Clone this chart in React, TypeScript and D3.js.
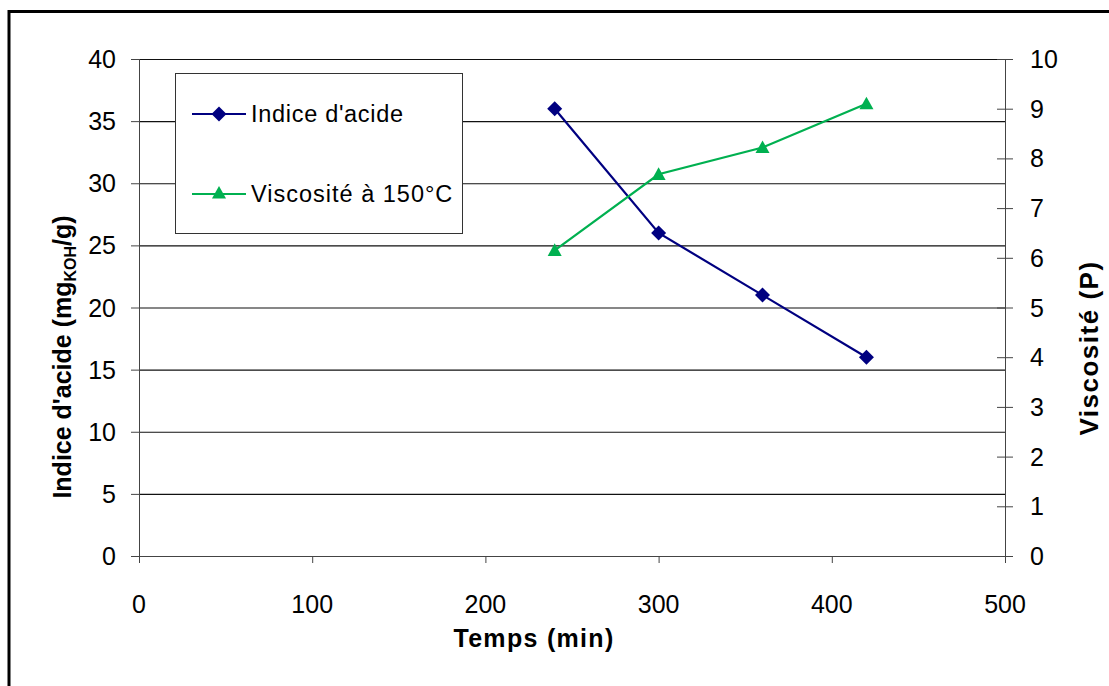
import React from "react";
import * as d3 from "d3";

const temps = [240, 300, 360, 420];
const indiceAcide = [36, 26, 21, 16];
const viscosite = [6.15, 7.68, 8.22, 9.1];
const xTicks = [0, 100, 200, 300, 400, 500];
const yLeftTicks = [0, 5, 10, 15, 20, 25, 30, 35, 40];
const yRightTicks = [0, 1, 2, 3, 4, 5, 6, 7, 8, 9, 10];
const seriesNames = ["Indice d'acide", "Viscosité à 150°C"];

const W = 1109, H = 686;
const L = 139, R = 1005, T = 59, B = 556;
const FONT = "'Liberation Sans', Arial, sans-serif";
const NAVY = "#000080";
const GREEN = "#00B050";

export default function App() {
  const x = d3.scaleLinear().domain([0, 500]).range([L, R]);
  const yL = d3.scaleLinear().domain([0, 40]).range([B, T]);
  const yR = d3.scaleLinear().domain([0, 10]).range([B, T]);

  const lineA = d3.line<number>().x((_, i) => x(temps[i])).y((d) => yL(d));
  const lineV = d3.line<number>().x((_, i) => x(temps[i])).y((d) => yR(d));

  const diamond = (cx: number, cy: number, s = 7.5) =>
    `M${cx},${cy - s}L${cx + s},${cy}L${cx},${cy + s}L${cx - s},${cy}Z`;
  const triangle = (cx: number, cy: number, s = 7) =>
    `M${cx},${cy - s}L${cx + s},${cy + s * 0.8}L${cx - s},${cy + s * 0.8}Z`;

  return (
    <svg width={W} height={H} style={{ position: "absolute", left: 0, top: 0, background: "#fff" }}
      fontFamily={FONT}>
      <rect x={0} y={0} width={W} height={H} fill="#fff" />
      {/* outer border */}
      <rect x={9} y={11.5} width={W + 20} height={H + 20} fill="none" stroke="#000" strokeWidth={3} />

      {/* gridlines */}
      {yLeftTicks.map((t) => (
        <line key={"g" + t} x1={L} x2={R} y1={yL(t) + 0.5} y2={yL(t) + 0.5} stroke="#111" strokeWidth={1.2} />
      ))}

      {/* left axis */}
      <line x1={L + 0.5} x2={L + 0.5} y1={T} y2={B + 7} stroke="#444" />
      {yLeftTicks.map((t) => (
        <g key={"yl" + t}>
          <line x1={L - 8} x2={L} y1={yL(t) + 0.5} y2={yL(t) + 0.5} stroke="#444" />
          <text x={116} y={yL(t)} dy="0.36em" textAnchor="end" fontSize={25} fill="#000">{t}</text>
        </g>
      ))}

      {/* bottom axis */}
      <line x1={L} x2={R} y1={B + 0.5} y2={B + 0.5} stroke="#444" />
      {xTicks.map((t) => (
        <g key={"x" + t}>
          <line x1={x(t) + 0.5} x2={x(t) + 0.5} y1={B} y2={B + 7} stroke="#444" />
          <text x={x(t)} y={604} dy="0.36em" textAnchor="middle" fontSize={25} fill="#000">{t}</text>
        </g>
      ))}

      {/* right axis */}
      <line x1={R + 0.5} x2={R + 0.5} y1={T} y2={B + 7} stroke="#444" />
      {yRightTicks.map((t) => (
        <g key={"yr" + t}>
          <line x1={R - 8} x2={R + 8} y1={yR(t) + 0.5} y2={yR(t) + 0.5} stroke="#444" />
          <text x={1030} y={yR(t)} dy="0.36em" textAnchor="start" fontSize={25} fill="#000">{t}</text>
        </g>
      ))}

      {/* axis titles */}
      <text transform={`translate(71,357) rotate(-90)`} textAnchor="middle" fontSize={25} fontWeight="bold" fill="#000">
        Indice d'acide (mg<tspan fontSize={16} dy={5}>KOH</tspan><tspan dy={-5}>/g)</tspan>
      </text>
      <text transform={`translate(1098,348) rotate(-90)`} textAnchor="middle" fontSize={26} fontWeight="bold"
        letterSpacing={1.5} fill="#000">
        Viscosité (P)
      </text>
      <text x={534} y={647} textAnchor="middle" fontSize={25} fontWeight="bold" letterSpacing={1.3} fill="#000">Temps (min)</text>

      {/* series */}
      <path d={lineA(indiceAcide) || ""} fill="none" stroke={NAVY} strokeWidth={2.2} />
      {indiceAcide.map((v, i) => (
        <path key={"a" + i} d={diamond(x(temps[i]), yL(v))} fill={NAVY} />
      ))}
      <path d={lineV(viscosite) || ""} fill="none" stroke={GREEN} strokeWidth={2.2} />
      {viscosite.map((v, i) => (
        <path key={"v" + i} d={triangle(x(temps[i]), yR(v))} fill={GREEN} />
      ))}

      {/* legend */}
      <rect x={175.5} y={73.5} width={287} height={160} fill="#fff" stroke="#333" strokeWidth={1} />
      <line x1={192} x2={246} y1={114} y2={114} stroke={NAVY} strokeWidth={2.2} />
      <path d={diamond(219, 114)} fill={NAVY} />
      <text x={251} y={114} dy="0.36em" fontSize={23.5} letterSpacing={0.7} fill="#000">{seriesNames[0]}</text>
      <line x1={192} x2={246} y1={194} y2={194} stroke={GREEN} strokeWidth={2.2} />
      <path d={triangle(219, 193)} fill={GREEN} />
      <text x={251} y={194} dy="0.36em" fontSize={23.5} letterSpacing={1} fill="#000">{seriesNames[1]}</text>
    </svg>
  );
}
